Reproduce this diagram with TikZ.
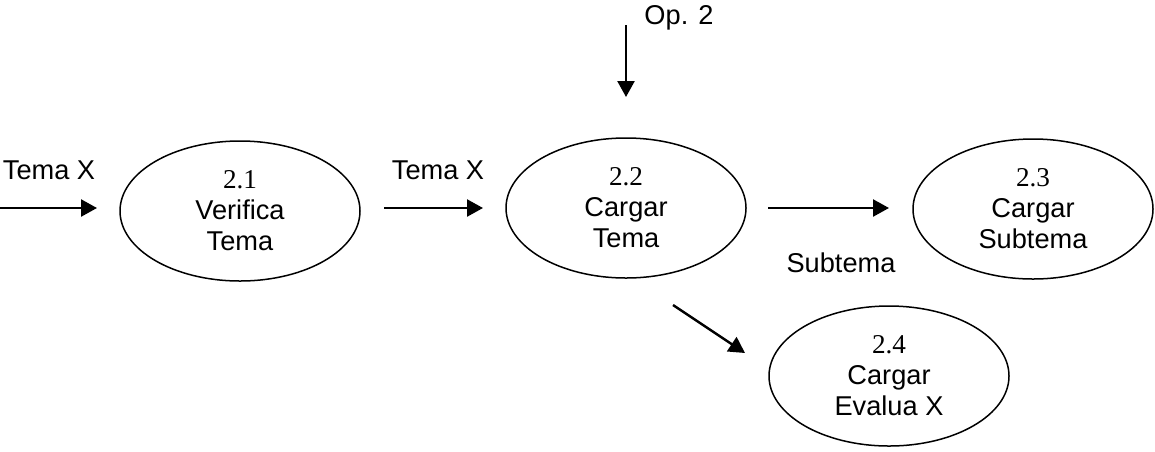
\documentclass[tikz,border=0pt]{standalone}
\usepackage{fontspec}
\setmainfont{Liberation Sans}
\newfontfamily\numfont{Liberation Serif}
\usetikzlibrary{arrows.meta,shapes.geometric}

\tikzset{
  proc/.style={draw, ellipse, line width=0.75pt, inner sep=0pt,
    minimum width=120pt, minimum height=70pt, align=center,
    font=\fontsize{13.6}{15.5}\selectfont},
  flow/.style={line width=1.2pt, -{Triangle[length=8pt,width=8.5pt]}},
  lbl/.style={anchor=base, inner sep=0pt, font=\fontsize{13.6}{15.5}\selectfont}
}
\newcommand{\pnum}[1]{{\numfont #1}}

\begin{document}
\begin{tikzpicture}[x=0.5pt,y=-0.5pt]
  \useasboundingbox (0,0) rectangle (1155,451);

  % processes
  \node[proc] (p21) at (240,211) {\pnum{2.1}\\Verifica\\Tema};
  \node[proc] (p22) at (626,208) {\pnum{2.2}\\Cargar\\Tema};
  \node[proc] (p23) at (1033,209) {\pnum{2.3}\\Cargar\\Subtema};
  \node[proc] (p24) at (889,376) {\pnum{2.4}\\Cargar\\Evalua X};

  % flow end points
  \coordinate (in1a) at (0,208);    \coordinate (in1b) at (97,208);
  \coordinate (in2a) at (384,208);  \coordinate (in2b) at (483,208);
  \coordinate (opa)  at (626,25);   \coordinate (opb)  at (626,97);
  \coordinate (s3a)  at (768,208);  \coordinate (s3b)  at (889,208);
  \coordinate (s4a)  at (673,305);  \coordinate (s4b)  at (745,353);

  % flows
  \draw[flow] (in1a) -- (in1b);
  \draw[flow] (in2a) -- (in2b);
  \draw[flow] (opa) -- (opb);
  \draw[flow] (s3a) -- (s3b);
  \draw[flow] (s4a) -- (s4b);

  % flow labels
  \node[lbl] (t1) at (49,179) {Tema X};
  \node[lbl] (t2) at (438,179) {Tema X};
  \node[lbl] (t3) at (679,24) {Op. 2};
  \node[lbl] (t4) at (841,272) {Subtema};
\end{tikzpicture}
\end{document}
